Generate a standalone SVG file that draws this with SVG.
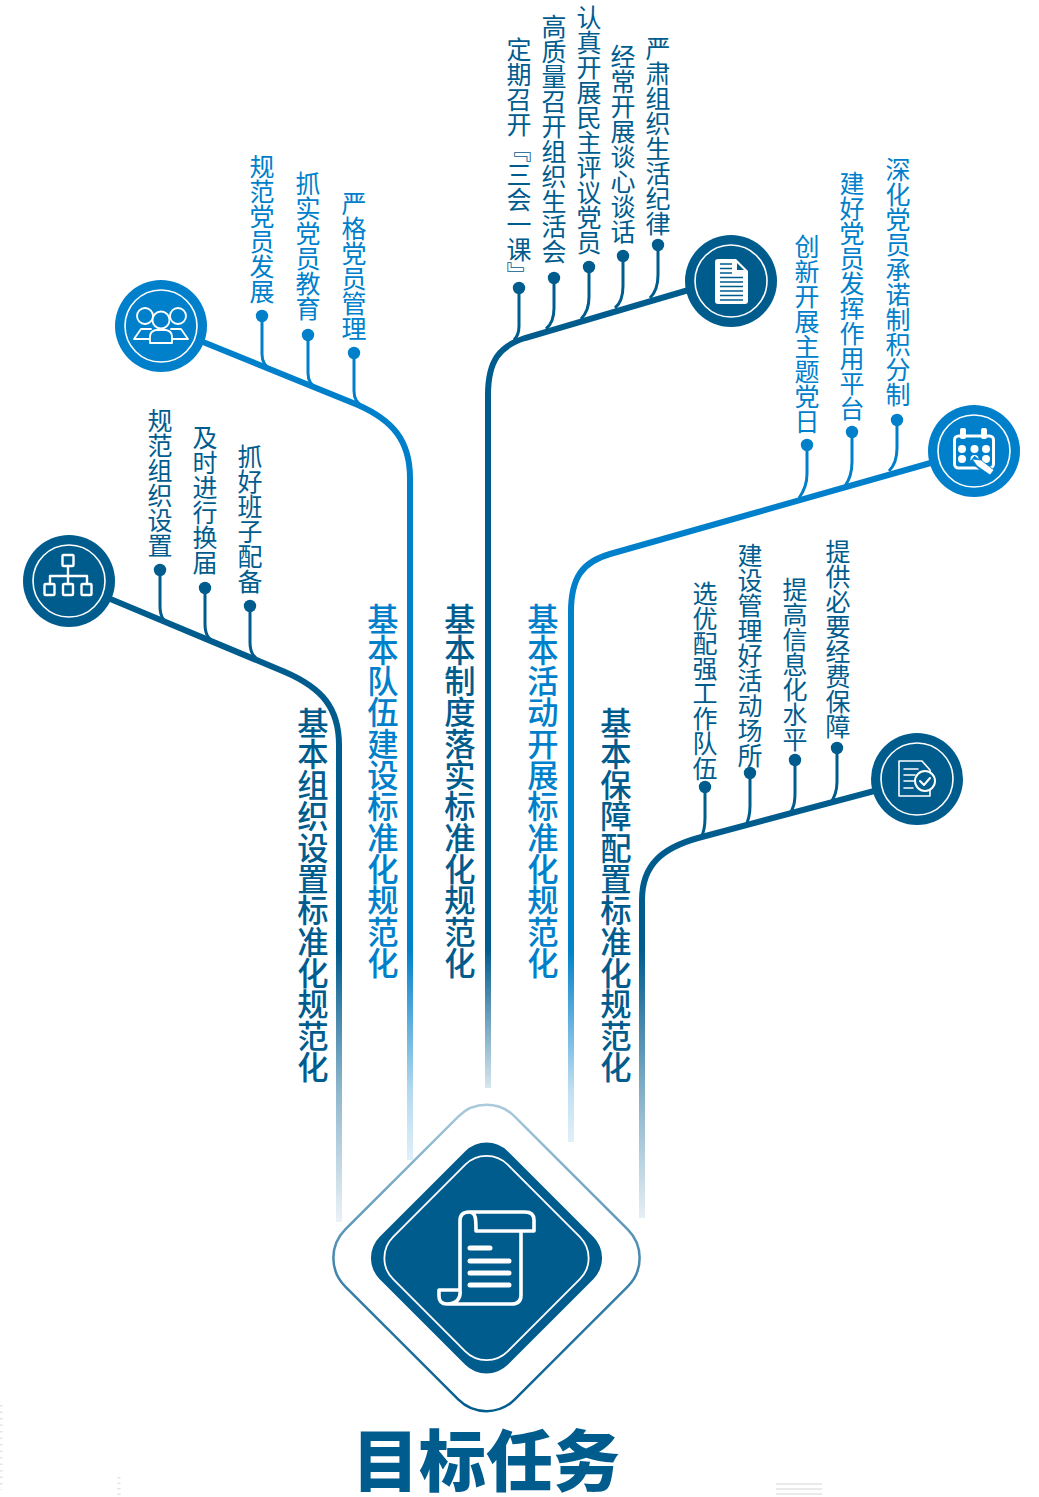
<svg xmlns="http://www.w3.org/2000/svg" width="1039" height="1497" viewBox="0 0 1039 1497">
<style>
text{font-family:"Noto Sans CJK SC","Noto Sans",sans-serif}
.v{writing-mode:vertical-rl;text-orientation:upright}
.s{font-size:25px;font-weight:400}
.t{font-size:31.3px;font-weight:500}
.d{fill:#015c8e}.b{fill:#0080cb}
.main{fill:none;stroke-width:6}
.stem{fill:none;stroke-width:3}
.ring{fill:none;stroke:#fff;stroke-width:1.6}
.ic{fill:none;stroke:#fff;stroke-linejoin:round;stroke-linecap:round}
.fw{fill:#fff;stroke:none}
.faint{stroke:#e4e4e4;fill:none}
</style>
<defs>
<linearGradient id="g1" gradientUnits="userSpaceOnUse" x1="0" y1="950" x2="0" y2="1222"><stop offset="0" stop-color="#015c8e"/><stop offset=".51" stop-color="#015c8e" stop-opacity=".45"/><stop offset="1" stop-color="#015c8e" stop-opacity=".08"/></linearGradient>
<linearGradient id="g2" gradientUnits="userSpaceOnUse" x1="0" y1="950" x2="0" y2="1160"><stop offset="0" stop-color="#0080cb"/><stop offset=".67" stop-color="#0080cb" stop-opacity=".3"/><stop offset="1" stop-color="#0080cb" stop-opacity=".12"/></linearGradient>
<linearGradient id="g3" gradientUnits="userSpaceOnUse" x1="0" y1="950" x2="0" y2="1088"><stop offset="0" stop-color="#015c8e"/><stop offset="1" stop-color="#015c8e" stop-opacity=".15"/></linearGradient>
<linearGradient id="g4" gradientUnits="userSpaceOnUse" x1="0" y1="950" x2="0" y2="1142"><stop offset="0" stop-color="#0080cb"/><stop offset=".73" stop-color="#0080cb" stop-opacity=".25"/><stop offset="1" stop-color="#0080cb" stop-opacity=".12"/></linearGradient>
<linearGradient id="g5" gradientUnits="userSpaceOnUse" x1="0" y1="950" x2="0" y2="1218"><stop offset="0" stop-color="#015c8e"/><stop offset=".52" stop-color="#015c8e" stop-opacity=".5"/><stop offset="1" stop-color="#015c8e" stop-opacity=".1"/></linearGradient>
<linearGradient id="gd" gradientUnits="userSpaceOnUse" x1="0" y1="1104" x2="0" y2="1411"><stop offset="0" stop-color="#abcbdc"/><stop offset=".5" stop-color="#4a8ab0"/><stop offset="1" stop-color="#015c8e"/></linearGradient>
</defs>

<g id="connectors">
<path class="main" stroke="url(#g1)" d="M108 598L285 672C322 688 339 708 339 745V1222"/>
<path class="main" stroke="url(#g2)" d="M203 342L358 405C392 420 410 440 410 478V1160"/>
<path class="main" stroke="url(#g3)" d="M692 289L525 338C500 346 488 360 488 395V1088"/>
<path class="main" stroke="url(#g4)" d="M934 462L610 554C582 562 571 578 571 612V1142"/>
<path class="main" stroke="url(#g5)" d="M878 790L698 838C662 848 642 865 642 900V1218"/>
<g stroke="#015c8e">
<path class="stem" d="M160 570V606C160 616 163 621 171 626"/>
<path class="stem" d="M205 588V624C205 634 208 639 216 644"/>
<path class="stem" d="M250 606V642C250 652 253 657 261 662"/>
<path class="stem" d="M519 288V326C519 332 518 336 514 340"/>
<path class="stem" d="M554 278V308C554 317 552 324 546 329"/>
<path class="stem" d="M589 267V297C589 306 587 313 581 319"/>
<path class="stem" d="M623 256V286C623 295 621 303 615 308"/>
<path class="stem" d="M658 245V275C658 284 656 292 650 298"/>
<path class="stem" d="M705 787V818C705 827 704 832 701 838"/>
<path class="stem" d="M750 773V806C750 815 749 820 745 827"/>
<path class="stem" d="M795 760V792C795 802 794 808 789 815"/>
<path class="stem" d="M837 748V782C837 791 835 797 830 804"/>
</g>
<g stroke="#0080cb">
<path class="stem" d="M262 316V354C262 362 265 366 272 371"/>
<path class="stem" d="M308 335V373C308 381 311 385 318 390"/>
<path class="stem" d="M354 353V391C354 399 357 403 364 408"/>
<path class="stem" d="M807 445V474C807 484 804 491 799 498"/>
<path class="stem" d="M852 432V462C852 472 850 479 845 486"/>
<path class="stem" d="M897 420V448C897 458 895 465 889 471"/>
</g>
<g class="d"><circle cx="160" cy="570" r="6.200"/><circle cx="205" cy="588" r="6.200"/><circle cx="250" cy="606" r="6.200"/>
<circle cx="519" cy="288" r="6.200"/><circle cx="554" cy="278" r="6.200"/><circle cx="589" cy="267" r="6.200"/><circle cx="623" cy="256" r="6.200"/><circle cx="658" cy="245" r="6.200"/>
<circle cx="705" cy="787" r="6.200"/><circle cx="750" cy="773" r="6.200"/><circle cx="795" cy="760" r="6.200"/><circle cx="837" cy="748" r="6.200"/></g>
<g class="b"><circle cx="262" cy="316" r="6.200"/><circle cx="308" cy="335" r="6.200"/><circle cx="354" cy="353" r="6.200"/>
<circle cx="807" cy="445" r="6.200"/><circle cx="852" cy="432" r="6.200"/><circle cx="897" cy="420" r="6.200"/></g>
</g>

<g id="node-org">
<circle class="d" cx="69" cy="581" r="46"/><circle class="ring" cx="69" cy="581" r="36"/>
<g class="ic" style="stroke-width:2.400"><rect x="62.500" y="555" width="11" height="11" rx="1"/><rect x="44.500" y="584" width="10" height="11" rx="1"/><rect x="63" y="584" width="10" height="11" rx="1"/><rect x="81.500" y="584" width="10" height="11" rx="1"/><path d="M68 566V584M50 584V576H87V584"/></g>
</g>
<g id="node-team">
<circle class="b" cx="161" cy="326" r="46"/><circle class="ring" cx="161" cy="326" r="36"/>
<g class="ic" style="stroke-width:1.800"><path d="M151 329H141L134 339H149"/><path d="M171 329H181L188 339H173"/><circle cx="145" cy="316" r="8"/><circle cx="178" cy="316" r="8"/><circle cx="161" cy="320" r="8.500" style="fill:#0080cb"/><path d="M150 343V337Q150 331 156 330H166Q172 331 172 337V343Z" style="fill:#0080cb"/></g>
</g>
<g id="node-doc">
<circle class="d" cx="731" cy="281" r="46"/><circle class="ring" cx="731" cy="281" r="36"/>
<path class="fw" d="M718 259H736L748 271V301Q748 304 745 304H718Q715 304 715 301V262Q715 259 718 259Z"/>
<path d="M737 263L744 270H737Z" fill="#015c8e"/>
<path d="M720 264H732M720 268.500H732M720 273H732M720 277.500H743M720 282H743M720 286.500H743M720 291H743M720 295.500H743M720 300H743" stroke="#015c8e" stroke-width="1.500" fill="none"/>
</g>
<g id="node-calendar">
<circle class="b" cx="974" cy="451" r="46"/><circle class="ring" cx="974" cy="451" r="36"/>
<rect class="ic" x="954.500" y="436" width="39" height="32" rx="4" style="stroke-width:3"/>
<rect class="fw" x="960" y="428" width="6" height="11" rx="2"/><rect class="fw" x="981" y="428" width="6" height="11" rx="2"/>
<g class="fw"><circle cx="962" cy="449" r="4"/><circle cx="974.500" cy="449" r="4"/><circle cx="986" cy="449" r="4"/><circle cx="962" cy="459" r="4"/><circle cx="974.500" cy="459" r="4"/><circle cx="986" cy="459" r="4"/></g>
<path d="M972 459L992 474" stroke="#0080cb" stroke-width="8" fill="none"/>
<path d="M972 459L981 460L994 470L990 475L977 466Z" fill="#fff" stroke="#0080cb" stroke-width=".8"/>
</g>
<g id="node-check">
<circle class="d" cx="917" cy="779" r="46"/><circle class="ring" cx="917" cy="779" r="36"/>
<path class="ic" style="stroke-width:1.600" d="M922 761H899V796H930V770Z"/>
<path class="ic" style="stroke-width:1.500" d="M904 769H918M904 775H915M904 781H914M904 788H913"/>
<circle cx="925" cy="781" r="10" fill="#015c8e" stroke="#fff" stroke-width="2"/>
<path class="ic" style="stroke-width:2" d="M920 781L924 785L930 778"/>
</g>

<g id="node-center">
<path d="M458.200 1116.600A40 40 0 0 1 514.800 1116.600L627.900 1229.700A40 40 0 0 1 627.900 1286.300L514.800 1399.400A40 40 0 0 1 458.200 1399.400L345.100 1286.300A40 40 0 0 1 345.100 1229.700Z" fill="#fff" stroke="url(#gd)" stroke-width="2.500"/>
<rect x="396" y="1167.500" width="181" height="181" rx="30" transform="rotate(45 486.500 1258)" class="d"/>
<rect x="405.500" y="1177" width="162" height="162" rx="30" transform="rotate(45 486.500 1258)" fill="none" stroke="#fff" stroke-width="1.800"/>
<path class="ic" style="stroke-width:3.600" d="M460 1290V1221Q460 1212 469 1212H525Q534 1212 534 1220V1231H521V1295Q521 1304 512 1304H447Q439 1304 439 1296V1290H460C461 1298 457 1304 447 1304M469 1212C476 1212 476 1219 476 1231H521"/>
<path class="ic" style="stroke-width:5" d="M470 1248H490M470 1261H509M470 1273H509M470 1285H509"/>
</g>

<g id="labels">
<text class="v s d" x="160" y="408">规范组织设置</text>
<text class="v s d" x="205" y="425">及时进行换届</text>
<text class="v s d" x="250" y="444">抓好班子配备</text>
<text class="v s b" x="262" y="154">规范党员发展</text>
<text class="v s b" x="308" y="171">抓实党员教育</text>
<text class="v s b" x="354" y="191">严格党员管理</text>
<text class="v s d" x="519" y="37">定期召开『三会一课』</text>
<text class="v s d" x="554" y="14">高质量召开组织生活会</text>
<text class="v s d" x="589" y="5">认真开展民主评议党员</text>
<text class="v s d" x="623" y="44">经常开展谈心谈话</text>
<text class="v s d" x="658" y="36">严肃组织生活纪律</text>
<text class="v s b" x="807" y="234">创新开展主题党日</text>
<text class="v s b" x="852" y="171">建好党员发挥作用平台</text>
<text class="v s b" x="898" y="157">深化党员承诺制积分制</text>
<text class="v s d" x="705" y="581">选优配强工作队伍</text>
<text class="v s d" x="750" y="543">建设管理好活动场所</text>
<text class="v s d" x="795" y="577">提高信息化水平</text>
<text class="v s d" x="838" y="539">提供必要经费保障</text>
<text class="v t d" x="313" y="707">基本组织设置标准化规范化</text>
<text class="v t b" x="383" y="603">基本队伍建设标准化规范化</text>
<text class="v t d" x="460" y="603">基本制度落实标准化规范化</text>
<text class="v t b" x="543" y="603">基本活动开展标准化规范化</text>
<text class="v t d" x="616" y="707">基本保障配置标准化规范化</text>
<text class="d" x="486" y="1486" text-anchor="middle" font-size="67" font-weight="900">目标任务</text>
</g>

<g id="specks">
<path class="faint" stroke-dasharray="1.500 5" style="stroke-width:3" d="M1 1405V1490"/>
<path class="faint" stroke-dasharray="1.500 4" style="stroke-width:3" d="M119 1477V1495"/>
<path class="faint" style="stroke-width:1.500" d="M776 1484H822M776 1489H822M776 1494H822"/>
</g>
</svg>
